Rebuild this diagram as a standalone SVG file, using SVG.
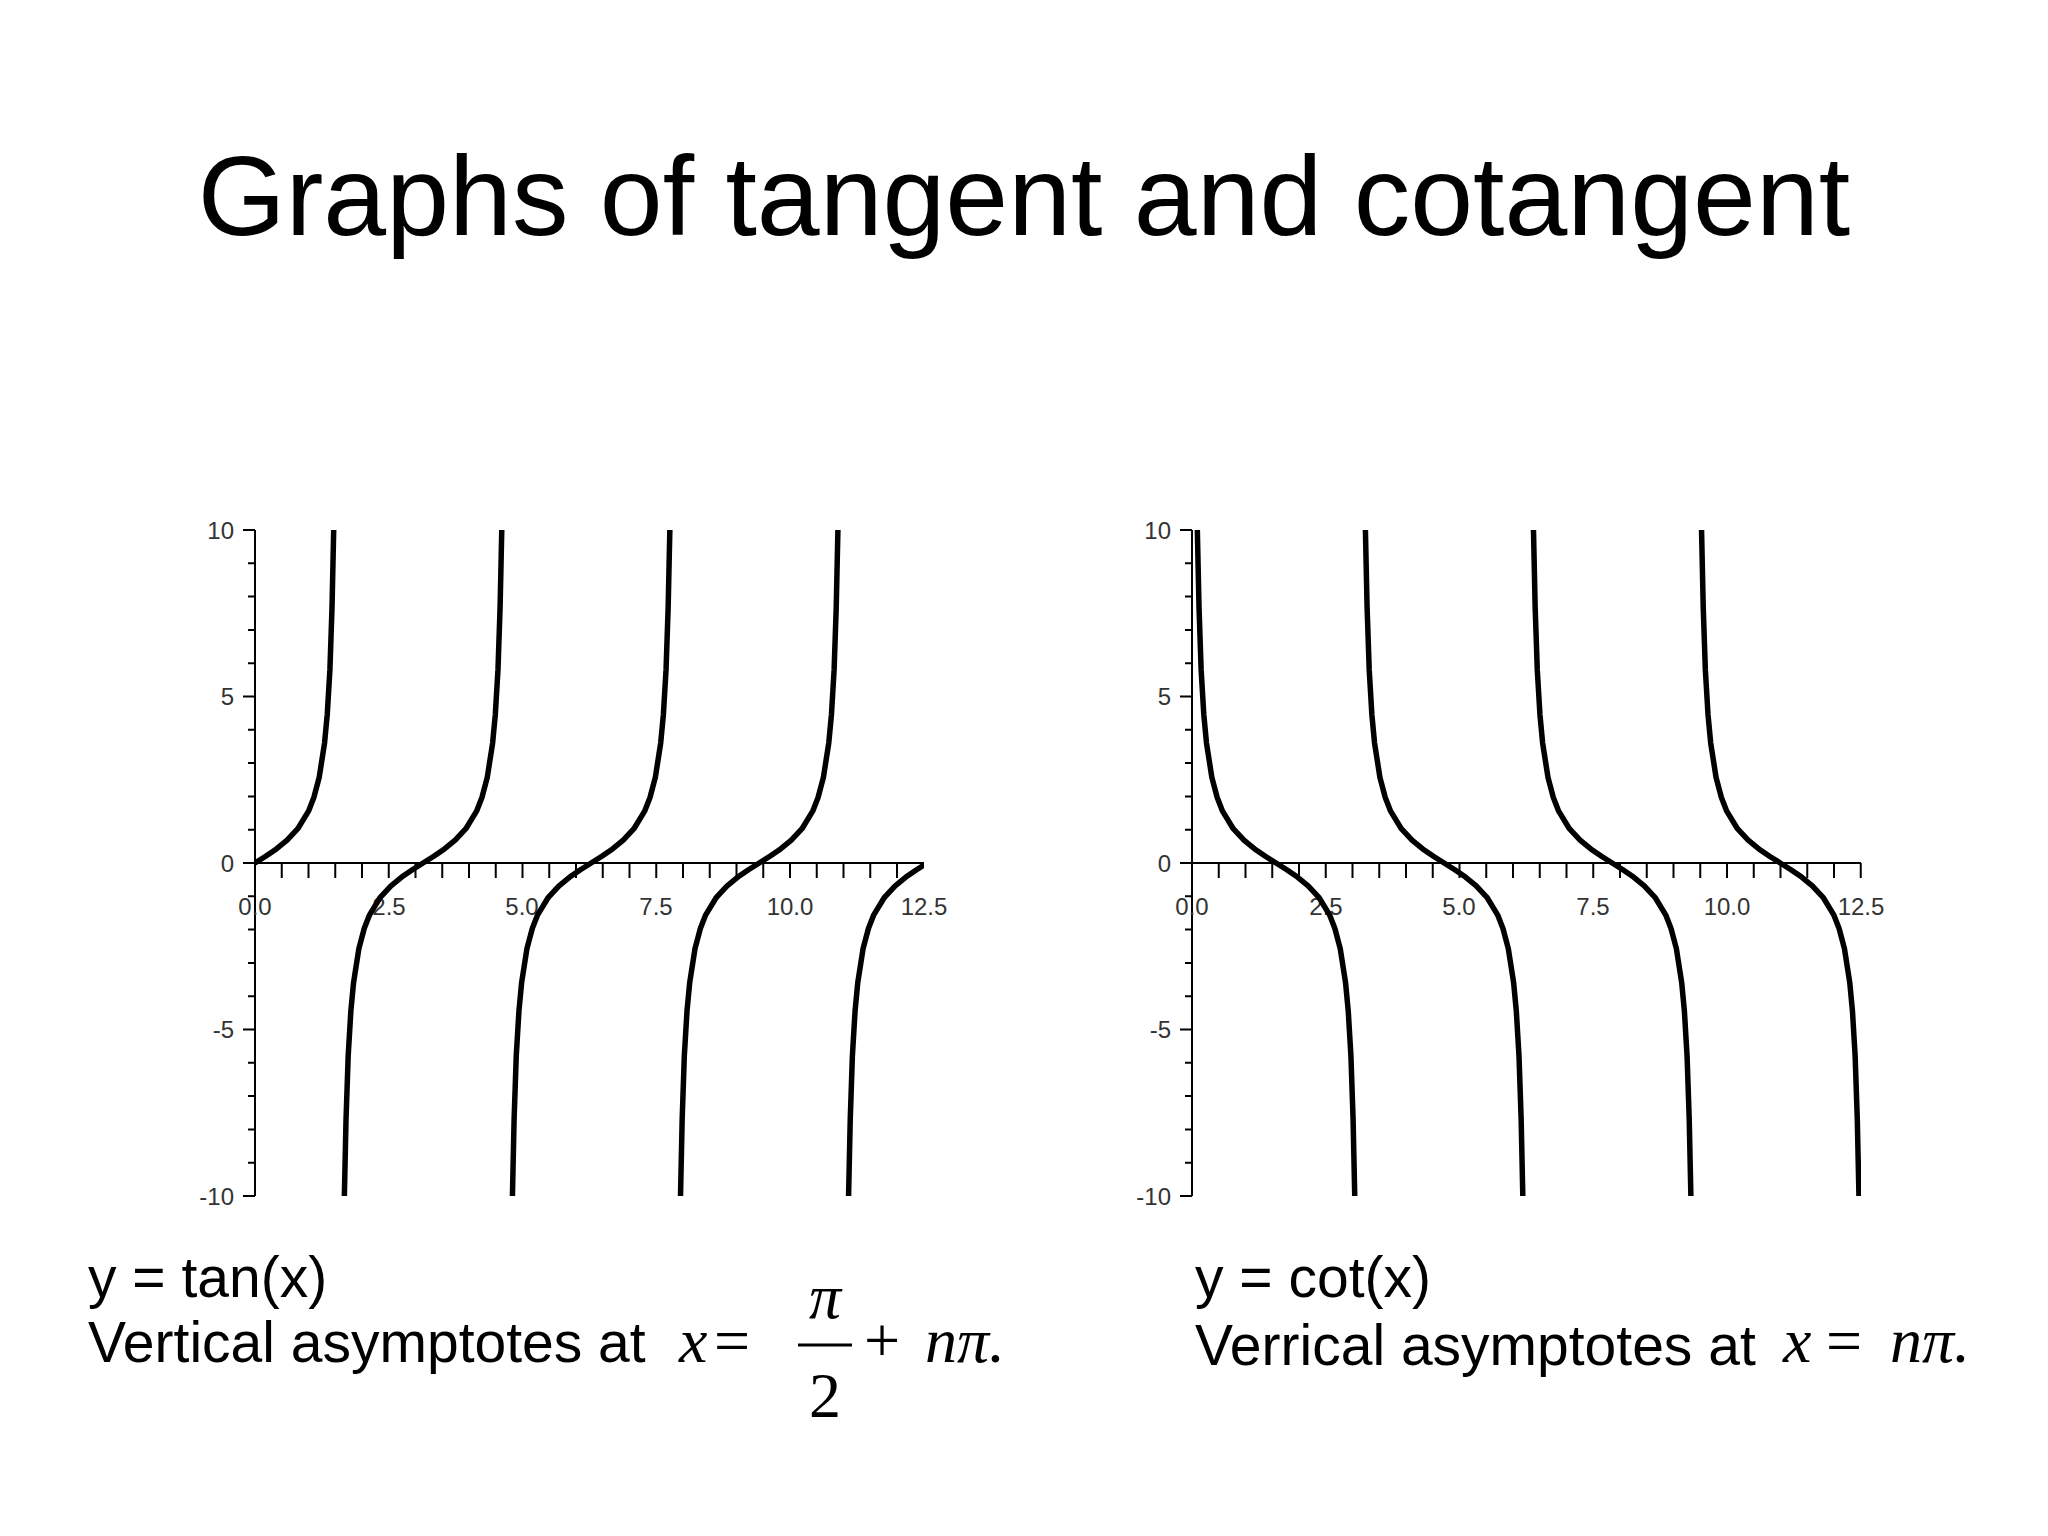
<svg xmlns="http://www.w3.org/2000/svg" width="2048" height="1536" viewBox="0 0 2048 1536">
<style>
.t{font-family:"Liberation Sans",Arial,sans-serif;fill:#000}
.m{font-family:"Liberation Serif","Times New Roman",serif;font-style:italic;fill:#000;font-size:64px}
.mr{font-family:"Liberation Serif","Times New Roman",serif;fill:#000;font-size:64px}
.ax{stroke:#000;stroke-width:2;fill:none}
.cv{stroke:#000;stroke-width:5.5;fill:none;stroke-linejoin:round}
.tl{font-family:"Liberation Sans",Arial,sans-serif;font-size:24px;fill:#333}
</style>
<defs>
<polyline id="br" points="-78.7,333 -77.04,256.3 -74.9,193.07 -72.23,148.36 -69.55,119.95 -64.2,85.65 -58.85,65.43 -53.5,51.86 -42.8,34.29 -32.1,22.78 -21.4,14.08 -10.7,6.75 0,0 10.7,-6.75 21.4,-14.08 32.1,-22.78 42.8,-34.29 53.5,-51.86 58.85,-65.43 64.2,-85.65 69.55,-119.95 72.23,-148.36 74.9,-193.07 77.04,-256.3 78.7,-333"/>
<clipPath id="cl"><rect x="255" y="520" width="669" height="690"/></clipPath>
<clipPath id="cr"><rect x="1192" y="520" width="669" height="690"/></clipPath>
</defs>
<text class="t" x="1024" y="235" font-size="113" text-anchor="middle">Graphs of tangent and cotangent</text>

<g id="tan-plot">
<path class="ax" d="M255,530V1196M255,863H924"/>
<path class="ax" d="M243,530H255M243,696.5H255M243,863H255M243,1029.5H255M243,1196H255M248,563.3H255M248,596.6H255M248,629.9H255M248,663.2H255M248,729.8H255M248,763.1H255M248,796.4H255M248,829.7H255M248,896.3H255M248,929.6H255M248,962.9H255M248,996.2H255M248,1062.8H255M248,1096.1H255M248,1129.4H255M248,1162.7H255"/>
<path class="ax" d="M281.75,863v15M308.5,863v15M335.25,863v15M362,863v15M388.75,863v15M415.5,863v15M442.25,863v15M469,863v15M495.75,863v15M522.5,863v15M549.25,863v15M576,863v15M602.75,863v15M629.5,863v15M656.25,863v15M683,863v15M709.75,863v15M736.5,863v15M763.25,863v15M790,863v15M816.75,863v15M843.5,863v15M870.25,863v15M897,863v15"/>
<g class="tl" text-anchor="end"><text x="234" y="539">10</text><text x="234" y="705">5</text><text x="234" y="872">0</text><text x="234" y="1038">-5</text><text x="234" y="1205">-10</text></g>
<g class="tl" text-anchor="middle"><text x="255" y="915">0.0</text><text x="389" y="915">2.5</text><text x="522" y="915">5.0</text><text x="656" y="915">7.5</text><text x="790" y="915">10.0</text><text x="924" y="915">12.5</text></g>
<g clip-path="url(#cl)">
<use href="#br" class="cv" transform="translate(255,863)"/>
<use href="#br" class="cv" transform="translate(423.07,863)"/>
<use href="#br" class="cv" transform="translate(591.14,863)"/>
<use href="#br" class="cv" transform="translate(759.21,863)"/>
<use href="#br" class="cv" transform="translate(927.28,863)"/>
</g>
</g>

<g id="cot-plot">
<path class="ax" d="M1192,530V1196M1192,863H1861"/>
<path class="ax" d="M1180,530H1192M1180,696.5H1192M1180,863H1192M1180,1029.5H1192M1180,1196H1192M1185,563.3H1192M1185,596.6H1192M1185,629.9H1192M1185,663.2H1192M1185,729.8H1192M1185,763.1H1192M1185,796.4H1192M1185,829.7H1192M1185,896.3H1192M1185,929.6H1192M1185,962.9H1192M1185,996.2H1192M1185,1062.8H1192M1185,1096.1H1192M1185,1129.4H1192M1185,1162.7H1192"/>
<path class="ax" d="M1218.75,863v15M1245.5,863v15M1272.25,863v15M1299,863v15M1325.75,863v15M1352.5,863v15M1379.25,863v15M1406,863v15M1432.75,863v15M1459.5,863v15M1486.25,863v15M1513,863v15M1539.75,863v15M1566.5,863v15M1593.25,863v15M1620,863v15M1646.75,863v15M1673.5,863v15M1700.25,863v15M1727,863v15M1753.75,863v15M1780.5,863v15M1807.25,863v15M1834,863v15M1860.75,863v15"/>
<g class="tl" text-anchor="end"><text x="1171" y="539">10</text><text x="1171" y="705">5</text><text x="1171" y="872">0</text><text x="1171" y="1038">-5</text><text x="1171" y="1205">-10</text></g>
<g class="tl" text-anchor="middle"><text x="1192" y="915">0.0</text><text x="1326" y="915">2.5</text><text x="1459" y="915">5.0</text><text x="1593" y="915">7.5</text><text x="1727" y="915">10.0</text><text x="1861" y="915">12.5</text></g>
<g clip-path="url(#cr)">
<use href="#br" class="cv" transform="translate(1276.04,863) scale(-1,1)"/>
<use href="#br" class="cv" transform="translate(1444.11,863) scale(-1,1)"/>
<use href="#br" class="cv" transform="translate(1612.18,863) scale(-1,1)"/>
<use href="#br" class="cv" transform="translate(1780.25,863) scale(-1,1)"/>
</g>
</g>

<g id="tan-caption">
<text class="t" x="88" y="1297" font-size="57">y = tan(x)</text>
<text class="t" x="88" y="1362" font-size="57">Vertical asymptotes at</text>
<text class="m" x="679" y="1362">x</text>
<text class="mr" x="714" y="1362">=</text>
<text class="m" x="825" y="1318" text-anchor="middle">π</text>
<line x1="798" y1="1345" x2="852" y2="1345" stroke="#000" stroke-width="3"/>
<text class="mr" x="825" y="1417" text-anchor="middle">2</text>
<text class="mr" x="864" y="1362">+</text>
<text class="m" x="925" y="1362">nπ.</text>
</g>
<g id="cot-caption">
<text class="t" x="1195" y="1297" font-size="57">y = cot(x)</text>
<text class="t" x="1195" y="1365" font-size="57">Verrical asymptotes at</text>
<text class="m" x="1783" y="1362">x</text>
<text class="mr" x="1826" y="1362">=</text>
<text class="m" x="1890" y="1362">nπ.</text>
</g>
</svg>
